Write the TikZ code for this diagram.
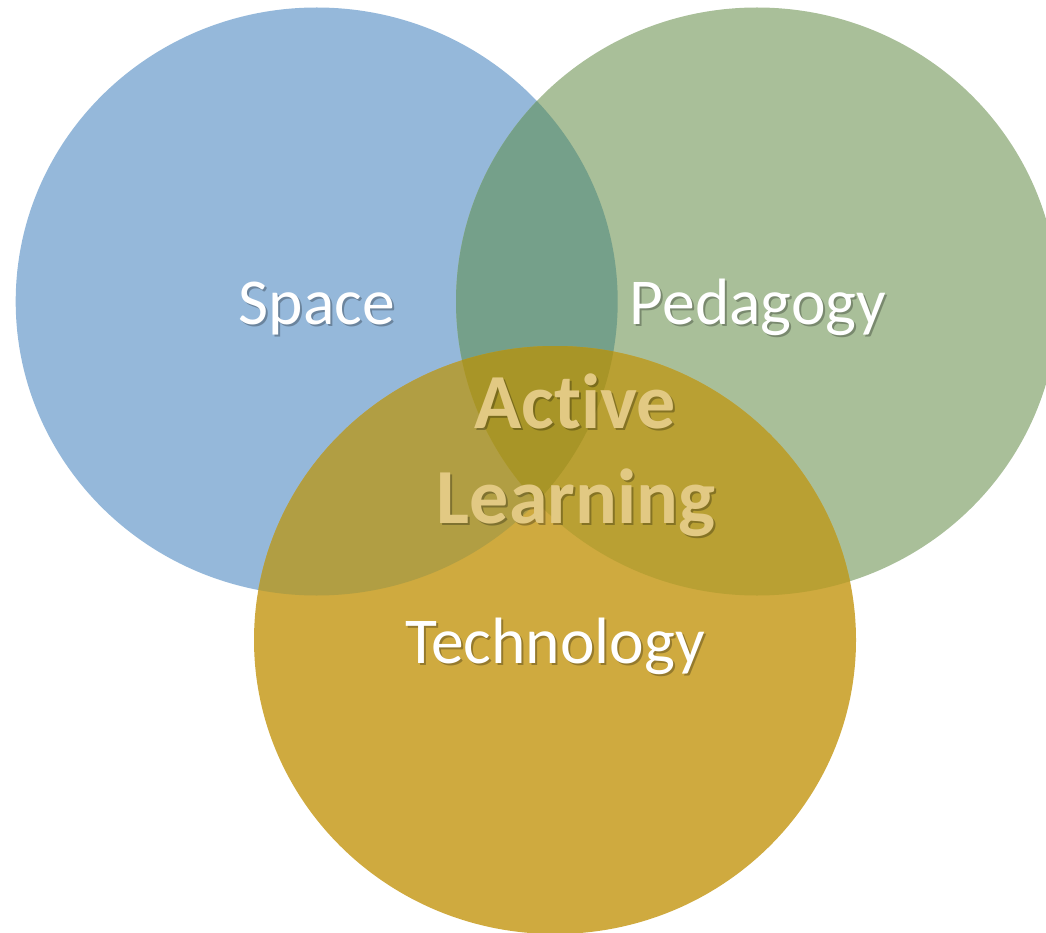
\documentclass[tikz,border=0pt]{standalone}
\usepackage{fontspec}
\setmainfont[RawFeature={-liga;-clig;-calt;-dlig}]{Carlito}
\definecolor{cblue}{HTML}{95B8DA}
\definecolor{cgreen}{HTML}{A9BF99}
\definecolor{cgold}{HTML}{CFAA3F}
\definecolor{cbg}{HTML}{75A08A}
\definecolor{cby}{HTML}{B19E43}
\definecolor{cgy}{HTML}{B9A033}
\definecolor{cbgy}{HTML}{A89527}
\definecolor{ctan}{HTML}{E2C983}
\tikzset{
  lbl/.style={anchor=base, text=white, font=\fontsize{65.5}{70}\selectfont, inner sep=0pt},
  biglbl/.style={anchor=base, text=ctan, font=\fontsize{78}{80}\selectfont\bfseries, inner sep=0pt},
  shad/.style={text=black, text opacity=0.28},
}
\newcommand{\shtext}[4]{% style, coordinate, name, text
  \node[#1, shad, xshift=2pt, yshift=-2pt] (#3s) at #2 {#4};
  \node[#1] (#3) at #2 {#4};
}
\begin{document}
\begin{tikzpicture}[x=1pt,y=1pt]
\useasboundingbox (0,0) rectangle (1046,-933);
\coordinate (cb) at (316.7,-301.5);
\coordinate (cg) at (757,-301.5);
\coordinate (cy) at (555,-640);
\def\rx{301}
\def\ry{294}
\fill[cblue] (cb) ellipse [x radius=\rx, y radius=\ry];
\fill[cgreen] (cg) ellipse [x radius=\rx, y radius=\ry];
\fill[cgold] (cy) ellipse [x radius=\rx, y radius=\ry];
\begin{scope}
  \clip (cb) ellipse [x radius=\rx, y radius=\ry];
  \fill[cbg] (cg) ellipse [x radius=\rx, y radius=\ry];
  \fill[cby] (cy) ellipse [x radius=\rx, y radius=\ry];
\end{scope}
\begin{scope}
  \clip (cg) ellipse [x radius=\rx, y radius=\ry];
  \fill[cgy] (cy) ellipse [x radius=\rx, y radius=\ry];
\end{scope}
\begin{scope}
  \clip (cb) ellipse [x radius=\rx, y radius=\ry];
  \clip (cg) ellipse [x radius=\rx, y radius=\ry];
  \fill[cbgy] (cy) ellipse [x radius=\rx, y radius=\ry];
\end{scope}
\shtext{lbl}{(317,-324)}{space}{Space}
\shtext{lbl}{(758,-324)}{pedagogy}{Pedagogy}
\shtext{lbl}{(555,-663)}{technology}{Technology}
\shtext{biglbl}{(575,-428)}{active}{Active}
\shtext{biglbl}{(576,-523)}{learning}{Learning}
\end{tikzpicture}
\end{document}
